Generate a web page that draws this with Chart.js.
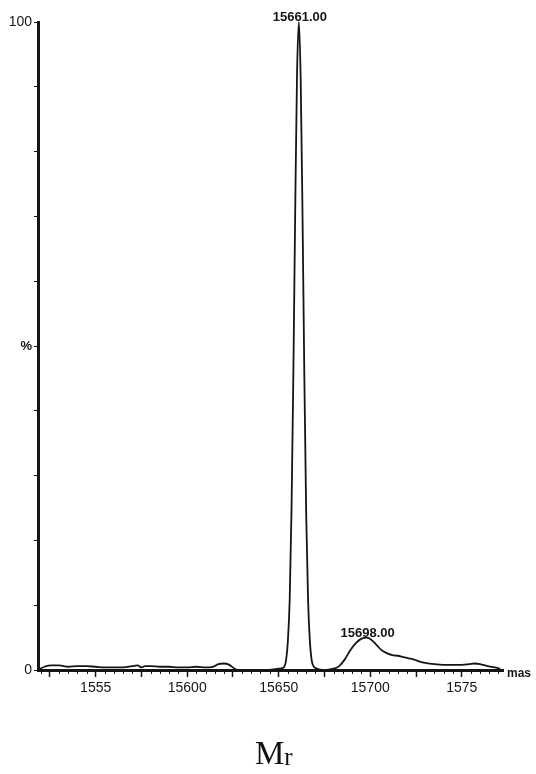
<!DOCTYPE html>
<html>
<head>
<meta charset="utf-8">
<script src="https://cdn.jsdelivr.net/npm/chart.js@4.4.1/dist/chart.umd.min.js"></script>
<style>
  html, body { margin: 0; padding: 0; background: #fff; }
  #wrap { position: relative; width: 536px; height: 774px; }
  #spectrum { position: absolute; left: 0; top: 0; }
  #mr {
    position: absolute; left: 255px; top: 733px;
    font-family: "Liberation Serif", "DejaVu Serif", serif;
    font-size: 33px; line-height: 40px; color: #111;
  }
  #mr span { font-size: 25px; position: relative; top: 1px; }
</style>
</head>
<body>
<div id="wrap">
  <canvas id="spectrum" width="536" height="774"></canvas>
  <div id="mr">M<span>r</span></div>
</div>
<script>
// deconvoluted mass spectrum, intensity in % of base peak
const masses = [
  15519, 15522, 15526, 15530, 15535, 15540, 15545, 15550, 15555, 15560,
  15565, 15570, 15573, 15575, 15577, 15580, 15585, 15590, 15595, 15600,
  15605, 15610, 15614, 15617, 15620, 15623, 15626, 15628, 15632, 15636,
  15640, 15644, 15647, 15650, 15652, 15653, 15654, 15655, 15656, 15657,
  15658, 15659, 15660, 15661, 15662, 15663, 15664, 15665, 15666, 15667,
  15668, 15669, 15670, 15672, 15675, 15678, 15680, 15683, 15686, 15689,
  15692, 15695, 15698, 15700, 15703, 15706, 15709, 15712, 15715, 15718,
  15721, 15724, 15727, 15730, 15735, 15740, 15745, 15750, 15754, 15757,
  15760, 15764, 15768, 15771
];
const intensities = [
  0.1, 0.5, 0.7, 0.7, 0.5, 0.6, 0.6, 0.5, 0.4, 0.4,
  0.4, 0.6, 0.7, 0.4, 0.6, 0.6, 0.5, 0.5, 0.4, 0.4,
  0.5, 0.4, 0.5, 0.9, 1.0, 0.8, 0.2, 0.0, 0.0, 0.0,
  0.0, 0.0, 0.1, 0.2, 0.3, 0.5, 1.5, 4.5, 11, 25,
  46, 71, 92, 100, 91, 70, 45, 24, 11, 4.5,
  1.5, 0.6, 0.3, 0.1, 0.0, 0.1, 0.2, 0.6, 1.6, 3.0,
  4.1, 4.8, 5.0, 4.8, 4.0, 3.1, 2.6, 2.3, 2.2, 2.0,
  1.8, 1.6, 1.3, 1.1, 0.9, 0.8, 0.8, 0.8, 0.9, 1.0,
  0.9, 0.6, 0.4, 0.2
];

// labelled peaks
const peakMasses = [15661, 15698];
const peakIntensities = [100, 5.0];

// axes
const xMajorTicks = [15525, 15550, 15575, 15600, 15625, 15650, 15675, 15700, 15725, 15750];
const xLabelValues = [15550, 15600, 15650, 15700, 15750];
const xLabels = ['1555', '15600', '15650', '15700', '1575'];
const yTicks = [0, 10, 20, 30, 40, 50, 60, 70, 80, 90, 100];
const yLabels = { 0: '0', 50: '%', 100: '100' };

const ink = '#151515';
const sans = '"Liberation Sans", Arial, sans-serif';

const spectrumDecor = {
  id: 'spectrumDecor',
  afterDraw(chart) {
    const { ctx, chartArea, scales: { x, y } } = chart;
    ctx.save();
    // minor ticks every 5 Da along the mass axis
    ctx.strokeStyle = ink;
    ctx.lineWidth = 1;
    ctx.beginPath();
    for (let m = 15520; m <= 15770; m += 5) {
      if (xMajorTicks.includes(m)) continue;
      const px = Math.round(x.getPixelForValue(m)) + 0.5;
      ctx.moveTo(px, chartArea.bottom);
      ctx.lineTo(px, chartArea.bottom + 4);
    }
    ctx.stroke();

    // peak annotations
    ctx.fillStyle = ink;
    ctx.font = 'bold 13px ' + sans;
    ctx.textAlign = 'center';
    ctx.textBaseline = 'alphabetic';
    peakMasses.forEach((m, i) => {
      const px = x.getPixelForValue(m);
      const py = y.getPixelForValue(peakIntensities[i]);
      ctx.fillText(m.toFixed(2), px + 1, py - 1);
    });

    // axis unit
    ctx.font = 'bold 12px ' + sans;
    ctx.textAlign = 'left';
    ctx.fillText('mas', chartArea.right + 4, chartArea.bottom + 7);
    ctx.restore();
  }
};

new Chart(document.getElementById('spectrum'), {
  type: 'line',
  data: {
    datasets: [{
      data: masses.map((m, i) => ({ x: m, y: intensities[i] })),
      borderColor: ink,
      borderWidth: 1.8,
      pointRadius: 0,
      fill: false,
      cubicInterpolationMode: 'monotone',
      clip: false
    }]
  },
  options: {
    responsive: false,
    devicePixelRatio: 1,
    animation: false,
    layout: { padding: { top: 22, right: 33, left: 0, bottom: 0 } },
    plugins: {
      legend: { display: false },
      tooltip: { enabled: false }
    },
    scales: {
      x: {
        type: 'linear',
        position: 'bottom',
        min: 15518.5,
        max: 15772.5,
        afterBuildTicks: (scale) => { scale.ticks = xMajorTicks.map(v => ({ value: v })); },
        afterFit: (scale) => { scale.height = 104; },
        ticks: {
          autoSkip: false,
          maxRotation: 0,
          padding: 3,
          color: ink,
          font: { family: sans, size: 14 },
          callback: (v) => {
            const i = xLabelValues.indexOf(v);
            return i >= 0 ? xLabels[i] : '';
          }
        },
        grid: { drawOnChartArea: false, tickLength: 7, tickColor: ink, tickWidth: 1.5 },
        border: { color: ink, width: 3 }
      },
      y: {
        min: 0,
        max: 100,
        afterBuildTicks: (scale) => { scale.ticks = yTicks.map(v => ({ value: v })); },
        afterFit: (scale) => { scale.width = 38; },
        ticks: {
          padding: 2,
          color: ink,
          font: (c) => ({ family: sans, size: c.tick && c.tick.value === 50 ? 13 : 14, weight: c.tick && c.tick.value === 50 ? 'bold' : 'normal' }),
          callback: (v) => yLabels[v] || ''
        },
        grid: { drawOnChartArea: false, tickLength: 4, tickColor: ink, tickWidth: 1 },
        border: { color: ink, width: 3 }
      }
    }
  },
  plugins: [spectrumDecor]
});
</script>
</body>
</html>
